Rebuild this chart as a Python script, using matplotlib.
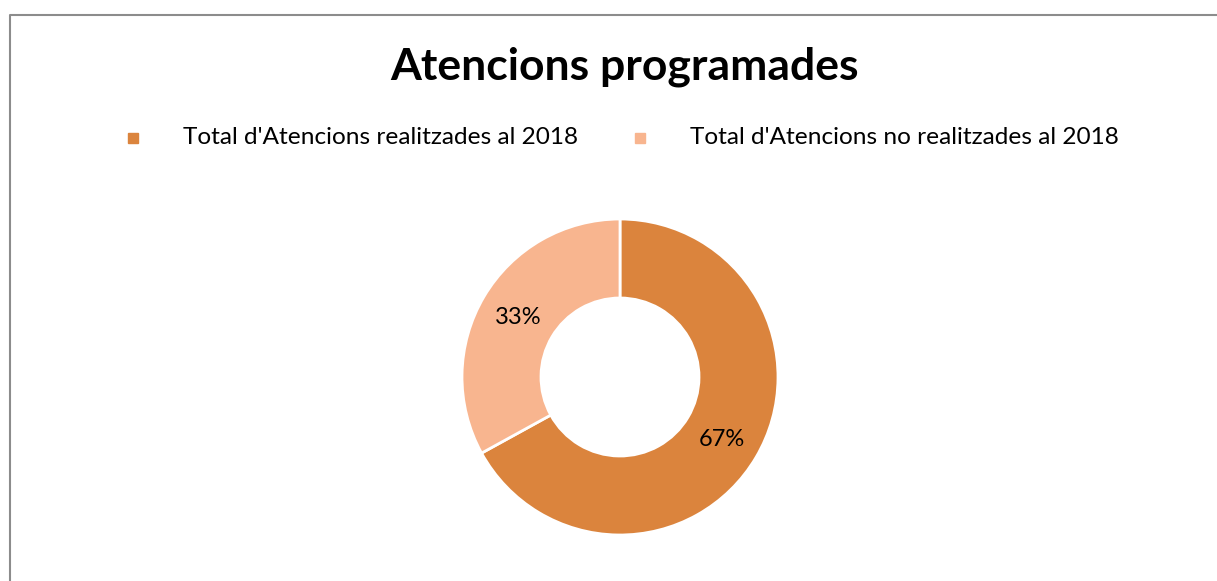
import matplotlib.pyplot as plt
from matplotlib.patches import Rectangle

# chart data
title = "Atencions programades"
labels = ["Total d'Atencions realitzades al 2018",
          "Total d'Atencions no realitzades al 2018"]
values = [67, 33]
colors = ["#DB843D", "#F8B58F"]

plt.rcParams['font.family'] = ['Lato', 'DejaVu Sans']

W, H = 1217, 581
fig = plt.figure(figsize=(W / 100, H / 100), dpi=100)
ax = fig.add_axes([0, 0, 1, 1])

# donut, clockwise from the top
wedges, _ = ax.pie(values, colors=colors, startangle=90, counterclock=False,
                   center=(620, H - 377), radius=158,
                   wedgeprops=dict(width=79, edgecolor='white', linewidth=2))

# percentage labels
pct_pos = [(722, 440), (518, 318)]
for v, (x, y) in zip(values, pct_pos):
    ax.text(x, H - y, "%d%%" % round(100 * v / sum(values)), fontsize=17,
            ha='center', va='center', color='black')

ax.set_xlim(0, W)
ax.set_ylim(0, H)
ax.set_aspect('equal')
ax.axis('off')

# chart frame (only top and left edges visible)
ax.plot([10, 10, W], [0, H - 15, H - 15], color='#8c8c8c', lw=1.5,
        clip_on=False)

# title
ax.text(625, H - 67, title, fontsize=32, fontweight='bold',
        ha='center', va='center')

# legend
legend_x = [(133, 183), (640, 690)]
for (mx, tx), lab, c in zip(legend_x, labels, colors):
    ax.add_patch(Rectangle((mx - 5, H - 138 - 5), 10, 10, color=c))
    ax.text(tx, H - 138, lab, fontsize=17.6, ha='left', va='center')

fig.savefig("out.png", dpi=100)
